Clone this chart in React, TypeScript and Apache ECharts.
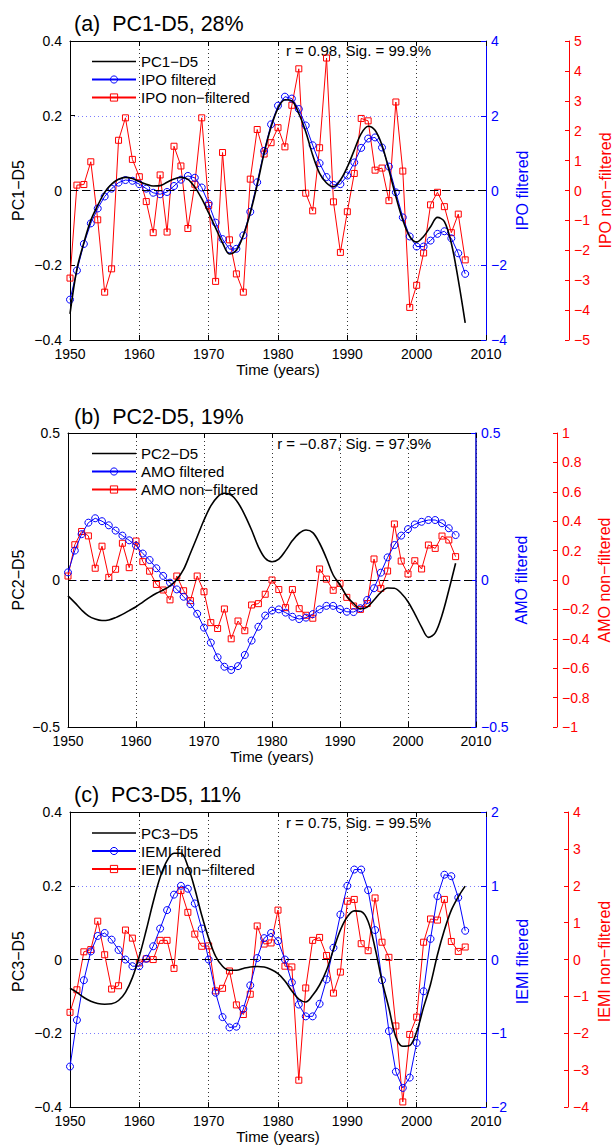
import React, { useEffect, useRef } from 'react';
import * as echarts from 'echarts';

const years = [1950,1951,1952,1953,1954,1955,1956,1957,1958,1959,1960,1961,1962,1963,1964,1965,1966,1967,1968,1969,1970,1971,1972,1973,1974,1975,1976,1977,1978,1979,1980,1981,1982,1983,1984,1985,1986,1987,1988,1989,1990,1991,1992,1993,1994,1995,1996,1997,1998,1999,2000,2001,2002,2003,2004,2005,2006,2007];

// Panel (a)
const pc1 = [-0.33,-0.21,-0.14,-0.08,-0.04,-0.005,0.017,0.03,0.035,0.032,0.024,0.017,0.012,0.013,0.022,0.031,0.035,0.03,0.009,-0.022,-0.06,-0.10,-0.14,-0.17,-0.16,-0.12,-0.06,0.015,0.10,0.17,0.22,0.243,0.24,0.206,0.157,0.095,0.046,0.02,0.01,0.028,0.063,0.108,0.152,0.172,0.161,0.121,0.055,-0.016,-0.079,-0.123,-0.138,-0.123,-0.097,-0.072,-0.083,-0.141,-0.239,-0.354];
const ipoFiltered = [-2.92,-2.14,-1.43,-0.88,-0.48,-0.16,0.05,0.21,0.28,0.26,0.17,0.05,-0.06,-0.10,-0.04,0.12,0.29,0.39,0.34,0.08,-0.35,-0.86,-1.30,-1.57,-1.56,-1.20,-0.57,0.22,1.06,1.77,2.27,2.51,2.46,2.18,1.74,1.21,0.73,0.36,0.15,0.17,0.40,0.75,1.14,1.39,1.42,1.15,0.64,-0.05,-0.72,-1.23,-1.50,-1.50,-1.34,-1.16,-1.09,-1.28,-1.68,-2.23];
const ipoRaw = [-2.93,0.18,0.2,0.96,-0.98,-3.4,-2.62,1.68,2.43,1.04,0.46,-0.37,-1.41,0.52,-1.39,1.48,0.82,-1.27,0.21,2.43,-0.5,-3.04,1.27,-1.65,-2.79,-3.4,0.38,2.04,1.22,1.6,2.1,1.46,2.85,4.07,-0.09,-0.68,1.43,4.43,-0.38,-2.07,-0.71,0.57,2.41,2.33,0.68,0.75,-0.34,2.96,0.65,-3.91,-3.17,-2.09,-0.48,-0.06,-0.54,-1.41,-0.79,-2.32];

// Panel (b)
const pc2 = [-0.054,-0.077,-0.102,-0.122,-0.133,-0.138,-0.136,-0.128,-0.117,-0.104,-0.091,-0.075,-0.059,-0.045,-0.034,-0.02,0.002,0.036,0.091,0.147,0.204,0.252,0.283,0.295,0.289,0.263,0.221,0.17,0.113,0.074,0.062,0.071,0.1,0.134,0.159,0.17,0.161,0.125,0.074,0.017,-0.017,-0.055,-0.08,-0.098,-0.092,-0.068,-0.042,-0.027,-0.028,-0.045,-0.074,-0.115,-0.16,-0.195,-0.18,-0.12,-0.035,0.057];
const amoFiltered = [0.026,0.10,0.156,0.195,0.21,0.20,0.186,0.168,0.151,0.135,0.117,0.09,0.068,0.04,0.014,-0.009,-0.032,-0.057,-0.082,-0.115,-0.162,-0.213,-0.263,-0.295,-0.306,-0.293,-0.255,-0.206,-0.159,-0.121,-0.104,-0.10,-0.111,-0.125,-0.133,-0.128,-0.116,-0.10,-0.088,-0.088,-0.099,-0.108,-0.109,-0.096,-0.068,-0.028,0.025,0.077,0.119,0.151,0.173,0.189,0.198,0.204,0.204,0.193,0.176,0.153];
const amoRaw = [0.027,0.24,0.33,0.30,0.08,0.23,0.018,0.073,0.25,0.084,0.265,0.125,0.06,-0.03,-0.068,-0.135,0.027,-0.073,-0.14,0.027,-0.08,-0.29,-0.33,-0.197,-0.40,-0.279,-0.345,-0.17,-0.161,-0.097,0.0,-0.065,-0.188,-0.065,-0.195,-0.24,-0.26,0.075,0.006,-0.07,-0.023,-0.118,-0.177,-0.2,-0.16,0.143,-0.057,0.061,0.381,0.129,0.041,0.131,0.075,0.238,0.215,0.299,0.272,0.159];

// Panel (c)
const pc3 = [-0.078,-0.089,-0.103,-0.113,-0.119,-0.121,-0.12,-0.111,-0.089,-0.049,0.009,0.08,0.156,0.223,0.268,0.288,0.288,0.253,0.192,0.12,0.058,0.009,-0.018,-0.029,-0.029,-0.024,-0.02,-0.019,-0.02,-0.027,-0.038,-0.058,-0.085,-0.107,-0.115,-0.097,-0.069,-0.029,0.027,0.08,0.116,0.132,0.13,0.103,0.031,-0.058,-0.132,-0.21,-0.235,-0.233,-0.196,-0.129,-0.067,0.013,0.08,0.134,0.17,0.199];
const iemiFiltered = [-1.45,-0.82,-0.28,0.11,0.32,0.36,0.27,0.13,0.0,-0.09,-0.09,0.01,0.18,0.42,0.67,0.88,1.0,0.96,0.76,0.42,0.0,-0.45,-0.78,-0.92,-0.91,-0.67,-0.35,0.02,0.29,0.36,0.25,0.0,-0.31,-0.61,-0.77,-0.77,-0.6,-0.27,0.16,0.61,1.0,1.22,1.22,0.94,0.4,-0.28,-0.97,-1.52,-1.74,-1.6,-1.13,-0.43,0.28,0.86,1.15,1.13,0.84,0.39];
const iemiRaw = [-1.43,-0.82,0.21,0.27,1.04,0.13,-0.8,-0.71,0.8,0.58,-0.09,0.02,0.0,0.52,0.52,-0.24,1.87,1.28,0.69,0.36,0.37,-0.85,-0.78,-0.31,-1.23,-1.49,-0.94,0.91,0.42,0.45,1.34,-0.18,-0.2,-3.27,-0.77,0.52,0.6,0.11,-0.91,-0.34,1.58,1.63,0.43,0.24,1.67,0.47,0.06,-1.8,-3.86,-2.03,-1.56,0.47,1.1,1.07,1.63,0.49,0.22,0.34];

const titles = ['(a)  PC1-D5, 28%', '(b)  PC2-D5, 19%', '(c)  PC3-D5, 11%'];
const stats = ['r = 0.98, Sig. = 99.9%', 'r = \u22120.87, Sig. = 97.9%', 'r = 0.75, Sig. = 99.5%'];
const pcNames = ['PC1\u2212D5', 'PC2\u2212D5', 'PC3\u2212D5'];
const filtNames = ['IPO filtered', 'AMO filtered', 'IEMI filtered'];
const rawNames = ['IPO non\u2212filtered', 'AMO non\u2212filtered', 'IEMI non\u2212filtered'];
const xTicks = { min: 1950, max: 2010, step: 10 };
const leftTicks = [{ min: -0.4, max: 0.4, step: 0.2 }, { min: -0.5, max: 0.5, step: 0.5 }, { min: -0.4, max: 0.4, step: 0.2 }];
const blueTicks = [{ min: -4, max: 4, step: 2 }, { min: -0.5, max: 0.5, step: 0.5 }, { min: -2, max: 2, step: 1 }];
const redTicks = [{ min: -5, max: 5, step: 1 }, { min: -1, max: 1, step: 0.2 }, { min: -4, max: 4, step: 1 }];

const pcSeries = [pc1, pc2, pc3];
const filtSeries = [ipoFiltered, amoFiltered, iemiFiltered];
const rawSeries = [ipoRaw, amoRaw, iemiRaw];

const FONT = '"Liberation Sans", Arial, Helvetica, sans-serif';
const BLUE = '#0000ff';
const RED = '#ff0000';

const layout = [
  { left: 70, top: 41, width: 416, height: 299, redOffset: 83, rightColor: BLUE, titleY: 23.5, statY: 50.7, legendTop: 49, leftNameX: 18.5, blueNameX: 522, redNameX: 605 },
  { left: 68, top: 433, width: 408, height: 294, redOffset: 81, rightColor: '#0000c0', titleY: 416.7, statY: 443, legendTop: 441, leftNameX: 18.5, blueNameX: 521, redNameX: 604.5 },
  { left: 70, top: 812, width: 416, height: 299, redOffset: 82, rightColor: BLUE, titleY: 795.3, statY: 822.7, legendTop: 820.5, leftNameX: 18.5, blueNameX: 522, redNameX: 604.5 },
];

const fmt = (v: number) => {
  const r = Math.round(v * 1000) / 1000;
  if (r === 0) return '0';
  return (r < 0 ? '\u2212' : '') + String(Math.abs(r));
};
const fmtYear = (v: number) => String(Math.round(v));

function buildOption() {
  const grid: any[] = [];
  const xAxis: any[] = [];
  const yAxis: any[] = [];
  const series: any[] = [];
  const legend: any[] = [];
  const graphic: any[] = [];

  layout.forEach((L, i) => {
    const midY = L.top + L.height / 2;
    grid.push({ left: L.left, top: L.top, width: L.width, height: L.height, containLabel: false });
    xAxis.push({
      type: 'value', gridIndex: i, position: 'bottom', min: xTicks.min, max: xTicks.max, interval: xTicks.step,
      axisLine: { show: true, onZero: false, lineStyle: { color: '#000', width: 1 } },
      axisTick: { show: true, inside: true, length: 5, lineStyle: { color: '#000' } },
      axisLabel: { show: true, margin: 7, color: '#000', fontSize: 14, fontFamily: FONT, formatter: fmtYear },
      splitLine: { show: true, lineStyle: { color: '#333', type: [1, 3], width: 1 } },
      name: 'Time (years)', nameLocation: 'middle', nameGap: 19,
      nameTextStyle: { color: '#000', fontSize: 15, fontFamily: FONT },
    });
    xAxis.push({
      type: 'value', gridIndex: i, position: 'top', min: xTicks.min, max: xTicks.max, interval: xTicks.step,
      axisLine: { show: true, onZero: false, lineStyle: { color: '#000', width: 1 } },
      axisTick: { show: true, inside: true, length: 5, lineStyle: { color: '#000' } },
      axisLabel: { show: false }, splitLine: { show: false },
    });
    yAxis.push({
      type: 'value', gridIndex: i, position: 'left', min: leftTicks[i].min, max: leftTicks[i].max, interval: leftTicks[i].step,
      axisLine: { show: true, onZero: false, lineStyle: { color: '#000', width: 1 } },
      axisTick: { show: true, inside: true, length: 5, lineStyle: { color: '#000' } },
      axisLabel: { color: '#000', fontSize: 14, fontFamily: FONT, margin: 8, formatter: fmt },
      splitLine: { show: false },
    });
    yAxis.push({
      type: 'value', gridIndex: i, position: 'right', min: blueTicks[i].min, max: blueTicks[i].max, interval: blueTicks[i].step,
      axisLine: { show: true, onZero: false, lineStyle: { color: L.rightColor, width: i === 1 ? 1.5 : 1 } },
      axisTick: { show: true, inside: true, length: 5, lineStyle: { color: BLUE } },
      axisLabel: { color: BLUE, fontSize: 14, fontFamily: FONT, margin: 5, formatter: fmt },
      splitLine: { show: true, lineStyle: { color: '#7b7bff', type: [1, 3], width: 1 } },
    });
    yAxis.push({
      type: 'value', gridIndex: i, position: 'right', offset: L.redOffset,
      min: redTicks[i].min, max: redTicks[i].max, interval: redTicks[i].step,
      axisLine: { show: true, onZero: false, lineStyle: { color: RED, width: 1 } },
      axisTick: { show: true, inside: true, length: 4, lineStyle: { color: RED } },
      axisLabel: { color: RED, fontSize: 14, fontFamily: FONT, margin: 5, formatter: fmt },
      splitLine: { show: false },
    });

    series.push({
      type: 'line', name: rawNames[i], xAxisIndex: 2 * i, yAxisIndex: 3 * i + 2,
      data: years.map((y, k) => [y, rawSeries[i][k]]),
      symbol: 'rect', symbolSize: 6, showSymbol: true,
      itemStyle: { color: 'rgba(255,255,255,0)', borderColor: RED, borderWidth: 1 },
      lineStyle: { color: RED, width: 1 }, z: 2,
    });
    series.push({
      type: 'line', name: filtNames[i], xAxisIndex: 2 * i, yAxisIndex: 3 * i + 1,
      data: years.map((y, k) => [y, filtSeries[i][k]]),
      symbol: 'circle', symbolSize: 7, showSymbol: true,
      itemStyle: { color: 'rgba(255,255,255,0)', borderColor: BLUE, borderWidth: 1 },
      lineStyle: { color: BLUE, width: 1 }, z: 3,
    });
    series.push({
      type: 'line', name: pcNames[i], xAxisIndex: 2 * i, yAxisIndex: 3 * i,
      data: years.map((y, k) => [y, pcSeries[i][k]]),
      symbol: 'none', smooth: 0.35,
      itemStyle: { color: '#000' },
      lineStyle: { color: '#000', width: 1.6 }, z: 4,
      markLine: {
        silent: true, symbol: ['none', 'none'], label: { show: false },
        lineStyle: { color: '#000', type: [8, 4], width: 1 },
        data: [{ yAxis: 0 }],
      },
    });

    legend.push({
      orient: 'vertical', left: 86, top: L.legendTop, itemWidth: 44, itemHeight: 9, itemGap: 3,
      textStyle: { color: '#000', fontSize: 15, fontFamily: FONT },
      itemStyle: { borderWidth: 1 },
      selectedMode: false,
      data: [
        { name: pcNames[i], icon: 'path://M0,0H44V1.6H0Z' },
        { name: filtNames[i] },
        { name: rawNames[i] },
      ],
    });

    graphic.push({
      type: 'text', x: 74, y: L.titleY,
      style: { text: titles[i], fontSize: 21.5, fontFamily: FONT, fill: '#000', align: 'left', verticalAlign: 'middle' },
    });
    graphic.push({
      type: 'text', x: 431, y: L.statY,
      style: { text: stats[i], fontSize: 15, fontFamily: FONT, fill: '#000', align: 'right', verticalAlign: 'middle' },
    });
    // Y-axis names (rotated, reading bottom to top)
    graphic.push({
      type: 'text', x: L.leftNameX, y: midY, rotation: Math.PI / 2,
      style: { text: pcNames[i], fontSize: 16, fontFamily: FONT, fill: '#000', align: 'center', verticalAlign: 'middle' },
    });
    graphic.push({
      type: 'text', x: L.blueNameX, y: midY, rotation: Math.PI / 2,
      style: { text: filtNames[i], fontSize: 16, fontFamily: FONT, fill: BLUE, align: 'center', verticalAlign: 'middle' },
    });
    graphic.push({
      type: 'text', x: L.redNameX, y: midY, rotation: Math.PI / 2,
      style: { text: rawNames[i], fontSize: 16, fontFamily: FONT, fill: RED, align: 'center', verticalAlign: 'middle' },
    });
  });

  return { animation: false, backgroundColor: '#fff', grid, xAxis, yAxis, series, legend, graphic };
}

export default function App() {
  const ref = useRef<HTMLDivElement>(null);
  useEffect(() => {
    if (!ref.current) return;
    const chart = echarts.init(ref.current, undefined, { renderer: 'svg' });
    chart.setOption(buildOption() as any);
    return () => chart.dispose();
  }, []);
  return <div ref={ref} style={{ position: 'absolute', left: 0, top: 0, width: 612, height: 1145 }} />;
}
